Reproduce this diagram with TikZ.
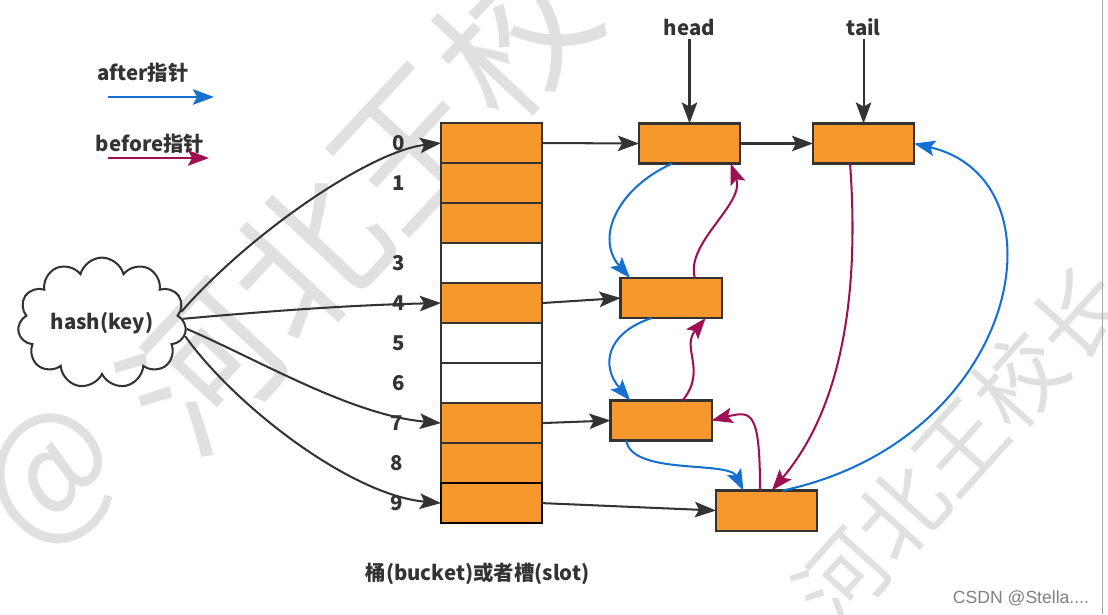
\documentclass[tikz,border=0pt]{standalone}
\usepackage{fontspec}
\setmainfont{Noto Sans CJK SC}
\newfontfamily\wmfont{Noto Sans CJK SC}
\newfontfamily\csdnfont{Liberation Sans}
\usepackage{tikz}
\usetikzlibrary{arrows.meta,shapes,shapes.symbols,positioning}
\definecolor{slotorange}{HTML}{F7982F}
\definecolor{afterblue}{HTML}{1670D0}
\definecolor{beforered}{HTML}{9E1052}
\definecolor{darkline}{HTML}{333333}
\tikzstyle{slotbox} = [rectangle, draw=darkline, fill=slotorange, minimum width=2.525cm, minimum height=1cm, inner sep=0pt, outer sep=0pt]
\tikzstyle{emptybox} = [slotbox, fill=white]
\tikzstyle{lbl} = [text=darkline, font=\fontsize{14.5}{16}\selectfont\bfseries, inner sep=2pt]
\tikzstyle{ptr} = [draw=darkline, -{Stealth[length=15pt,width=11pt,inset=3pt]}]
\tikzstyle{afterptr} = [ptr, draw=afterblue]
\tikzstyle{beforeptr} = [ptr, draw=beforered]
\tikzstyle{wm} = [text=black!12, inner sep=0pt]

\begin{document}
\begin{tikzpicture}[x=0.025cm, y=-0.025cm, line width=1.45pt]
        \useasboundingbox (0,0) rectangle (1108,614);

        % watermark
        \node[wm, font=\wmfont\fontsize{108}{108}\selectfont, rotate=47] (wm1) at (410,145) {河北王校长};
        \node[wm, font=\wmfont\fontsize{100}{100}\selectfont, rotate=47] (wm2) at (55,480) {@};
        \node[wm, font=\wmfont\fontsize{63}{63}\selectfont, rotate=48] (wm3) at (960,446) {河北王校长};
        \draw[black!35, thin] (1102,0) -- (1102,614);
        \node[text=black!50, font=\csdnfont\fontsize{12.5}{14}\selectfont] (csdn) at (1021,598) {CSDN @Stella....};

        % legend
        \node[lbl] (afterlbl) at (143,73) {after指针};
        \node[lbl] (beforelbl) at (150,144) {before指针};
        \coordinate (a1) at (108,97);
        \coordinate (a2) at (214,97);
        \coordinate (c1) at (108,158);
        \coordinate (c2) at (209,158);
        \draw[afterptr] (a1) -- (a2);
        \draw[beforeptr] (c1) -- (c2);

        % buckets
        \node[slotbox] (b0) at (491.5,143) {};
        \node[slotbox, below=0pt of b0] (b1) {};
        \node[slotbox, below=0pt of b1] (b2) {};
        \node[emptybox, below=0pt of b2] (b3) {};
        \node[slotbox, below=0pt of b3] (b4) {};
        \node[emptybox, below=0pt of b4] (b5) {};
        \node[emptybox, below=0pt of b5] (b6) {};
        \node[slotbox, below=0pt of b6] (b7) {};
        \node[slotbox, below=0pt of b7] (b8) {};
        \node[slotbox, below=0pt of b8, draw=black, line width=1.9pt] (b9) {};

        \node[lbl, left=0.8cm of b0] (l0) {0};
        \node[lbl, left=0.8cm of b1] (l1) {1};
        \node[lbl, left=0.8cm of b3] (l3) {3};
        \node[lbl, left=0.8cm of b4] (l4) {4};
        \node[lbl, left=0.8cm of b5] (l5) {5};
        \node[lbl, left=0.8cm of b6] (l6) {6};
        \node[lbl, left=0.85cm of b7] (l7) {7};
        \node[lbl, left=0.85cm of b8] (l8) {8};
        \node[lbl, left=0.85cm of b9] (l9) {9};
        \node[lbl, below=0.9cm of b9, xshift=-0.35cm] (caption) {桶(bucket)或者槽(slot)};

        % hash function
        \node[lbl, cloud, draw=darkline, cloud puffs=11, aspect=1.5, minimum width=3.5cm, minimum height=2.45cm] (hash) at (102,323) {hash(key)};
        \draw[ptr] (hash.8) .. controls +(70,-80) and +(-70,8) .. (b0.west);
        \draw[ptr] (hash.3) .. controls +(90,-8) and +(-90,2) .. (b4.west);
        \draw[ptr] (hash.-4) .. controls +(70,30) and +(-90,-8) .. (b7.west);
        \draw[ptr] (hash.-9) .. controls +(50,70) and +(-90,-8) .. (b9.west);

        % entries
        \node[slotbox] (n1) at (689.5,143.5) {};
        \node[slotbox, right=1.825cm of n1] (n2) {};
        \node[slotbox] (n3) at (671,298) {};
        \node[slotbox] (n4) at (661,420.5) {};
        \node[slotbox] (n5) at (766.5,510.5) {};

        \node[lbl, above=2.1cm of n1] (head) {head};
        \node[lbl, above=2.1cm of n2] (tail) {tail};
        \draw[ptr] (head) -- (n1);
        \draw[ptr] (tail) -- (n2);

        \draw[ptr] (b0.east) -- (n1.west);
        \draw[ptr] (n1.east) -- (n2.west);
        \draw[ptr] (b4.east) -- (n3.west);
        \draw[ptr] (b7.east) -- (n4.west);
        \draw[ptr] (b9.east) -- (n5.west);

        % after
        \draw[afterptr] (n1.-131) .. controls +(-55,25) and +(-35,-40) .. (n3.154);
        \draw[afterptr] (n3.-134) .. controls +(-45,15) and +(-30,-35) .. (n4.147);
        \draw[afterptr] (n4.-150) .. controls +(5,35) and +(-15,-30) .. (n5.139);
        \draw[afterptr] (n5.51) .. controls (1020,440) and (1070,180) .. (n2.east);

        % before
        \draw[beforeptr] (n3.40) .. controls +(-10,-35) and +(15,40) .. (n1.-26);
        \draw[beforeptr] (n4.43) .. controls +(25,-30) and +(-25,30) .. (n3.-30);
        \draw[beforeptr] (n5.108) .. controls +(0,-80) and +(40,-10) .. (n4.east);
        \draw[beforeptr] (n2.-124) .. controls (860,300) and (840,410) .. (n5.75);
    \end{tikzpicture}
\end{document}
